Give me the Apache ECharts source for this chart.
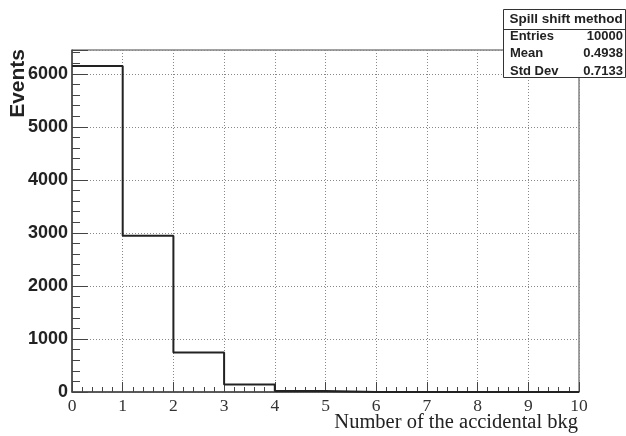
<!DOCTYPE html>
<html><head><meta charset="utf-8">
<script src="https://cdn.jsdelivr.net/npm/echarts@6/dist/echarts.min.js"></script>
<style>html,body{margin:0;padding:0;background:#fff}#c{width:626px;height:436px}</style>
</head><body><div id="c"></div>
<script>
const binEdges = [0,1,2,3,4,5,6,7,8,9,10];
const counts = [6150,2945,745,140,20,0,0,0,0,0];
const statsTitle = 'Spill shift method';
const statsLabels = ['Entries','Mean','Std Dev'];
const statsValues = ['10000','0.4938','0.7133'];
const xTitle = 'Number of the accidental bkg';
const yTitle = 'Events';

const stepData = counts.map((c,i)=>[binEdges[i], c]);
stepData.push([binEdges[binEdges.length-1], counts[counts.length-1]]);

const chart = echarts.init(document.getElementById('c'));
const L=72, R=579, T=50, B=392;
const bx=503, by=9, bw=122, bh=68;
const graphics = [
  {type:'text', x:R-1, y:412, style:{text:xTitle, font:'20.5px "Liberation Serif"', fill:'#222', textAlign:'right', textVerticalAlign:'top'}},
  {type:'text', x:18, y:49, rotation:Math.PI/2, style:{text:yTitle, font:'bold 21px "Liberation Sans"', fill:'#222', textAlign:'right', textVerticalAlign:'middle'}},
  {type:'rect', shape:{x:bx+0.5,y:by+0.5,width:bw,height:bh}, style:{fill:'#fff', stroke:'#333', lineWidth:1}, z:10},
  {type:'line', shape:{x1:bx,y1:29.5,x2:bx+bw,y2:29.5}, style:{stroke:'#333', lineWidth:1}, z:11},
  {type:'text', x:bx+bw/2+2, y:19, style:{text:statsTitle, font:'bold 13.5px "Liberation Sans"', fill:'#222', textAlign:'center', textVerticalAlign:'middle'}, z:12}
];
statsLabels.forEach((l,i)=>{
  const yy = 36 + i*17.5;
  graphics.push({type:'text', x:bx+7, y:yy, style:{text:l, font:'bold 13px "Liberation Sans"', fill:'#222', textAlign:'left', textVerticalAlign:'middle'}, z:12});
  graphics.push({type:'text', x:bx+bw-2, y:yy, style:{text:statsValues[i], font:'bold 13px "Liberation Sans"', fill:'#222', textAlign:'right', textVerticalAlign:'middle'}, z:12});
});

chart.setOption({
  animation:false,
  grid:{left:L, right:626-R, top:T, bottom:436-B, show:true, borderColor:'#444', borderWidth:1},
  xAxis:{type:'value', min:0, max:10, interval:1,
    axisLine:{show:true, lineStyle:{color:'#444', width:1.5}},
    axisTick:{show:true, inside:true, length:10, lineStyle:{color:'#444'}},
    minorTick:{show:true, splitNumber:5, length:5, lineStyle:{color:'#444'}},
    axisLabel:{margin:5, fontFamily:'Liberation Serif', fontSize:17.5, color:'#333'},
    splitLine:{show:true, lineStyle:{type:[1,2], color:'#888', width:1}}
  },
  yAxis:{type:'value', min:0, max:6450, interval:1000,
    axisLine:{show:true, lineStyle:{color:'#444', width:1.5}},
    axisTick:{show:true, inside:true, length:16, lineStyle:{color:'#444'}},
    minorTick:{show:true, splitNumber:5, length:8, lineStyle:{color:'#444'}},
    axisLabel:{margin:4, showMaxLabel:false, formatter:v=>String(v), fontFamily:'Liberation Sans', fontWeight:'bold', fontSize:18, color:'#222'},
    splitLine:{show:true, lineStyle:{type:[1,2], color:'#888', width:1}}
  },
  series:[{type:'line', step:'end', data:stepData, symbol:'none', lineStyle:{color:'#222', width:2}, z:5}],
  graphic:graphics
});
</script></body></html>
